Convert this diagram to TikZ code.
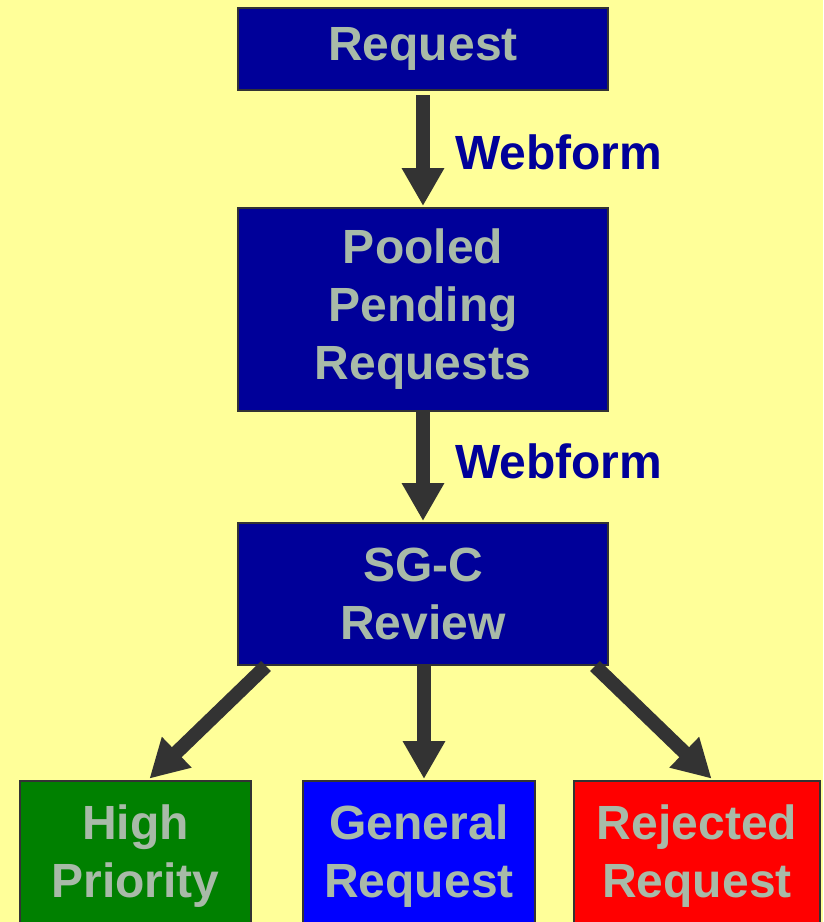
\documentclass[tikz,border=0pt]{standalone}
\usepackage{fontspec}
\setmainfont{Liberation Sans}
\usetikzlibrary{arrows.meta}
\definecolor{bgyellow}{HTML}{FFFF99}
\definecolor{navyblue}{HTML}{000099}
\definecolor{boxgreen}{HTML}{008000}
\definecolor{boxblue}{HTML}{0000FF}
\definecolor{boxred}{HTML}{FF0000}
\definecolor{edgegray}{HTML}{333333}
\definecolor{txtgray}{HTML}{A8BAA8}
\tikzset{
  x=1pt, y=1pt,
  box/.style={draw=edgegray, line width=2pt, inner sep=0pt, align=center,
    text=txtgray, font=\fontsize{48}{58}\selectfont\bfseries},
  flow/.style={draw=edgegray, line width=14pt,
    -{Triangle[width=40pt,length=38pt]}},
  lbl/.style={anchor=west, text=navyblue, inner sep=0pt,
    font=\fontsize{48}{58}\selectfont\bfseries}
}
\begin{document}
\begin{tikzpicture}
\fill[bgyellow] (0,0) rectangle (823,-922);
\useasboundingbox (0,0) rectangle (823,-922);
\begin{scope}
\clip (0,0) rectangle (823,-922);
\node[box, fill=navyblue, minimum width=370pt, minimum height=82pt] (req) at (423,-49) {Request};
\node[box, fill=navyblue, minimum width=370pt, minimum height=203pt] (pool) at (423,-309.5) {Pooled\\Pending\\Requests};
\node[box, fill=navyblue, minimum width=370pt, minimum height=142pt] (sgc) at (423,-594) {SG-C\\Review};
\node[box, fill=boxgreen, minimum width=231pt, minimum height=150pt] (hp) at (135.5,-856) {High\\Priority};
\node[box, fill=boxblue, minimum width=232pt, minimum height=150pt] (gen) at (419,-856) {General\\Request};
\node[box, fill=boxred, minimum width=246pt, minimum height=150pt] (rej) at (697,-856) {Rejected\\Request};

\draw[flow, shorten <=4pt, shorten >=1pt] (req.south) -- (pool.north);
\draw[flow, shorten <=0pt, shorten >=1pt] (pool.south) -- (sgc.north);
\draw[flow, shorten >=2pt] ([xshift=-157pt]sgc.south) -- ([xshift=12.5pt]hp.north);
\draw[flow, shorten >=1pt] ([xshift=1pt]sgc.south) -- ([xshift=5pt]gen.north);
\draw[flow, shorten >=2pt] ([xshift=172pt]sgc.south) -- ([xshift=16pt]rej.north);

\node[lbl] (w1) at (455,-152) {Webform};
\node[lbl] (w2) at (455,-461) {Webform};
\end{scope}
\end{tikzpicture}
\end{document}
